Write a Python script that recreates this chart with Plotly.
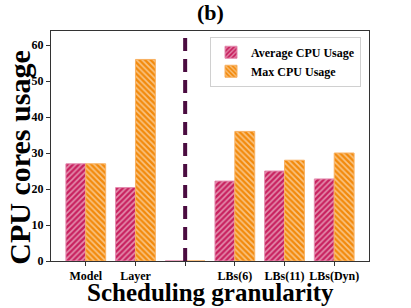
import plotly.graph_objects as go

categories = ["Model", "Layer", " ", "LBs(6)", "LBs(11)", "LBs(Dyn)"]
avg_cpu = [27.0, 20.4, 0, 22.2, 25.0, 22.8]
max_cpu = [27.0, 56.0, 0, 36.0, 28.0, 30.0]
y_ticks = [0, 10, 20, 30, 40, 50, 60]

PINK = "#c8215f"
ORANGE = "#f28a0c"
FONT = "Liberation Serif, Times New Roman, serif"

fig = go.Figure()
fig.add_trace(go.Bar(
    x=categories, y=avg_cpu, name="<b>Average CPU Usage</b>",
    marker=dict(color=PINK, line=dict(color="#e48aae", width=1),
                pattern=dict(shape="/", fgcolor="white", bgcolor=PINK, size=4, solidity=0.4)),
))
fig.add_trace(go.Bar(
    x=categories, y=max_cpu, name="<b>Max CPU Usage</b>",
    marker=dict(color=ORANGE, line=dict(color="#f8b060", width=1),
                pattern=dict(shape="\\", fgcolor="white", bgcolor=ORANGE, size=4, solidity=0.4)),
))

fig.add_shape(type="line", xref="x", yref="y", x0=2, x1=2, y0=0, y1=63.5,
              line=dict(color="#4b0c40", width=4, dash="13px,8px"))

fig.add_annotation(text="<b>Scheduling granularity</b>", xref="paper", yref="paper",
                   x=0.5, y=-0.135, xanchor="center", yanchor="middle", showarrow=False,
                   font=dict(family=FONT, size=25, color="black"))
fig.add_annotation(text="<b>CPU cores usage</b>", xref="paper", yref="paper",
                   x=-0.1, y=0.45, xanchor="center", yanchor="middle", showarrow=False,
                   textangle=-90, font=dict(family=FONT, size=30, color="black"))
fig.add_annotation(text="<b>(b)</b>", xref="paper", yref="paper",
                   x=0.5, y=1.08, xanchor="center", yanchor="middle", showarrow=False,
                   font=dict(family=FONT, size=22, color="black"))

fig.update_layout(
    width=411, height=308,
    margin=dict(l=51, r=42, t=31, b=47, autoexpand=False),
    barmode="group", bargap=0.2, bargroupgap=0,
    plot_bgcolor="white", paper_bgcolor="white",
    font=dict(family=FONT, color="black"),
    legend=dict(x=0.5, y=0.975, xanchor="left", yanchor="top",
                bgcolor="white", bordercolor="#d0d0d0", borderwidth=1,
                font=dict(family=FONT, size=12, color="black"),
                itemwidth=30, tracegroupgap=0),
    showlegend=True,
)
fig.update_xaxes(
    range=[-0.7, 5.7], showline=True, linecolor="#333", linewidth=1, mirror=True,
    ticks="outside", ticklen=4, tickcolor="#333", automargin=False,
    tickfont=dict(family=FONT, size=12, color="black"),
    ticktext=["<b>%s</b>" % c for c in categories], tickvals=categories,
)
fig.update_yaxes(
    range=[0, 63.9], showline=True, linecolor="#333", linewidth=1, mirror=True,
    ticks="outside", ticklen=4, tickcolor="#333", showgrid=False, zeroline=False,
    automargin=False,
    tickvals=y_ticks, ticktext=["<b>%d</b>" % v for v in y_ticks],
    tickfont=dict(family=FONT, size=12, color="black"),
)

fig.write_html("out.html", config={"displayModeBar": False},
               post_script="document.body.style.margin='0';document.body.style.overflow='hidden';")
